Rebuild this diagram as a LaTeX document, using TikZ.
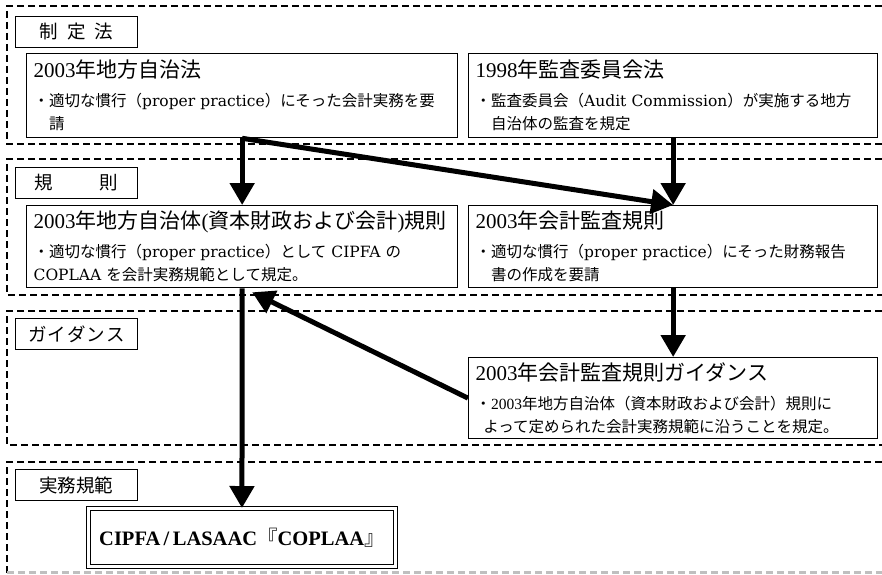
\documentclass[tikz,border=0pt]{standalone}
\usepackage{fontspec}
\setmainfont{Noto Sans CJK JP}
\newfontfamily\eng{DejaVu Serif}
\newfontfamily\yr{Liberation Serif}
\usetikzlibrary{arrows.meta}
\newcommand{\ttlfont}{\fontsize{21}{25}\selectfont}
\newcommand{\bodyfont}{\fontsize{15.5}{23}\selectfont}
\newcommand{\labfont}{\fontsize{18.5}{22}\selectfont}

\begin{document}
\begin{tikzpicture}[x=1pt,y=1pt,
  band/.style={line width=2.6pt, dash pattern=on 7pt off 4pt},
  lab/.style={draw, line width=0.9pt, anchor=north west, minimum width=122pt, minimum height=31pt, inner sep=0pt, font=\labfont},
  lawbox/.style={draw, line width=1.3pt, fill=white, anchor=north west, inner xsep=7pt, inner ysep=3pt, align=left, font=\bodyfont},
  widebox/.style={lawbox, text width=417pt, minimum height=84pt},
  narrowbox/.style={lawbox, text width=395pt, minimum height=84pt},
  bigarrow/.style={line width=5pt, -{Triangle[length=22pt,width=24pt]}}]

\useasboundingbox (0,0) rectangle (882,574);

% Draw the bands
\draw[band] (882,568) -- (7,568) -- (7,430) -- (882,430);
\draw[band] (882,415) -- (7,415) -- (7,279) -- (882,279);
\draw[band] (882,263) -- (7,263) -- (7,129) -- (882,129);
\draw[band] (882,112) -- (7,112) -- (7,1.5);
\draw[band,black!25] (7,1.5) -- (882,1.5);

% Draw the band labels
\node[lab] (seiteilab) at (15,558) {制\hspace{0.5em}定\hspace{0.5em}法};
\node[lab] (kisokulab) at (15,407) {規\hspace{2.5em}則};
\node[lab] (guidelab) at (15,256) {ガ\hspace{1pt}イ\hspace{1pt}ダ\hspace{1pt}ン\hspace{1pt}ス};
\node[lab] (jitsumulab) at (15,105) {実務規範};

% Draw the boxes
\node[widebox] (chihou) at (26,521) {{\ttlfont{\yr 2003}年地方自治法}\\[6pt]
・適切な慣行（{\eng proper practice}）にそった会計実務を要\\
\hspace*{1em}請};
\node[narrowbox] (kansa) at (468,521) {{\ttlfont{\yr 1998}年監査委員会法}\\[6pt]
・監査委員会（{\eng Audit Commission}）が実施する地方\\
\hspace*{1em}自治体の監査を規定};
\node[widebox, minimum height=82pt] (kisoku) at (26,369) {{\ttlfont{\yr 2003}年地方自治体{\yr (}資本財政および会計{\yr )}規則}\\[6pt]
・適切な慣行（{\eng proper practice}）として {\eng CIPFA} の\\
{\eng COPLAA} を会計実務規範として規定。};
\node[narrowbox, minimum height=82pt] (kaikei) at (468,369) {{\ttlfont{\yr 2003}年会計監査規則}\\[6pt]
・適切な慣行（{\eng proper practice}）にそった財務報告\\
\hspace*{1em}書の作成を要請};
\node[narrowbox, minimum height=81pt] (guide) at (468,217) {{\ttlfont{\yr 2003}年会計監査規則ガイダンス}\\[6pt]
・{\yr 2003}年地方自治体（資本財政および会計）規則に\\
\hspace*{0.5em}よって定められた会計実務規範に沿うことを規定。};
\node[draw, double, double distance=2.5pt, line width=0.9pt, anchor=north west, minimum width=307pt, minimum height=58pt, inner sep=2pt, font=\fontsize{20.5}{24}\selectfont] (coplaa) at (88,66) {{\yr\bfseries CIPFA\,/\,LASAAC}『{\yr\bfseries COPLAA}』};

% Draw the arrows
\coordinate (backtip) at ([xshift=10pt,yshift=-4pt]kisoku.south);
\draw[bigarrow] (chihou.south) -- (kisoku.north);
\draw[bigarrow] (chihou.south) -- (kaikei.north);
\draw[bigarrow] (kansa.south) -- (kaikei.north);
\draw[bigarrow] (kaikei.south) -- (guide.north);
\draw[bigarrow] (guide.west) -- (backtip);
\draw[bigarrow] (kisoku.south) -- (coplaa.north);

\end{tikzpicture}
\end{document}
